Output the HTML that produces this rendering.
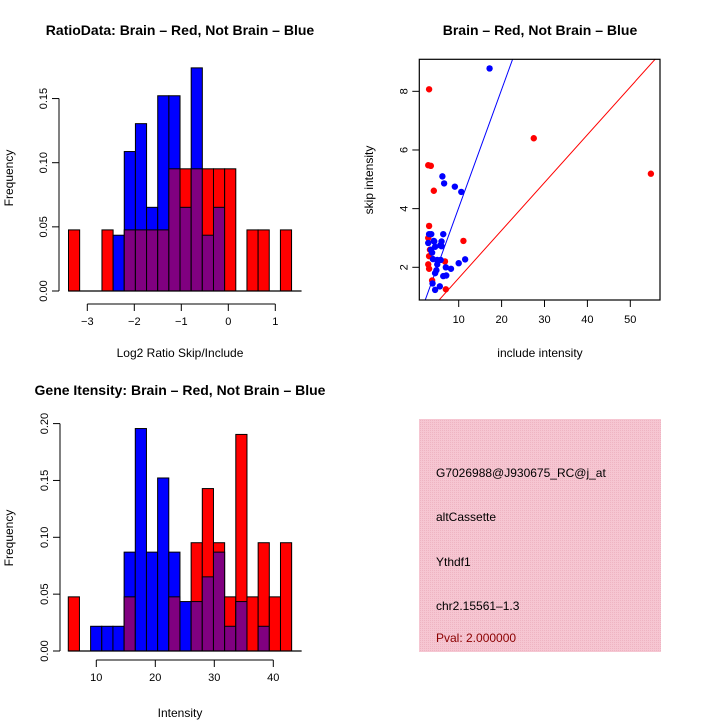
<!DOCTYPE html>
<html><head><meta charset="utf-8"><style>
body{margin:0;background:#fff}
svg{display:block;font-family:"Liberation Sans",Arial,sans-serif}
</style></head><body>
<svg id="c" width="720" height="720" viewBox="0 0 720 720">
<defs><pattern id="pk" width="2" height="2" patternUnits="userSpaceOnUse"><rect width="2" height="2" fill="#f6c6d2"/><rect width="1" height="1" fill="#eeb4c2"/></pattern></defs>
<text x="180" y="35" text-anchor="middle" font-size="14" font-weight="bold">RatioData: Brain – Red, Not Brain – Blue</text>
<text x="540" y="35" text-anchor="middle" font-size="14" font-weight="bold">Brain – Red, Not Brain – Blue</text>
<text x="180" y="395" text-anchor="middle" font-size="14" font-weight="bold">Gene Itensity: Brain – Red, Not Brain – Blue</text>
<text x="180" y="357" text-anchor="middle" font-size="12">Log2 Ratio Skip/Include</text>
<text x="540" y="357" text-anchor="middle" font-size="12">include intensity</text>
<text x="180" y="717" text-anchor="middle" font-size="12">Intensity</text>
<text transform="translate(13,178) rotate(-90)" text-anchor="middle" font-size="12">Frequency</text>
<text transform="translate(13,538) rotate(-90)" text-anchor="middle" font-size="12">Frequency</text>
<text transform="translate(373,180) rotate(-90)" text-anchor="middle" font-size="12">skip intensity</text>
<g>
<rect x="419" y="419" width="242" height="233" fill="url(#pk)"/>
<text x="436" y="477" font-size="12">G7026988@J930675_RC@j_at</text>
<text x="436" y="521" font-size="12">altCassette</text>
<text x="436" y="566" font-size="12">Ythdf1</text>
<text x="436" y="610" font-size="12">chr2.15561–1.3</text>
<text x="436" y="642" font-size="12" fill="#8b0000">Pval: 2.000000</text>
</g>
</svg>
<script>
// Ratio histogram data (counts per bin)
const ratioStart = -3.40;
const ratioBinW = 0.2373;
const ratioRed = [1,0,0,1,0,1,1,1,1,2,2,2,2,2,2,0,1,1,0,1];
const ratioBlue = [0,0,0,0,2,5,6,3,7,7,3,8,2,3,0,0,0,0,0,0];
const ratioXTicks = [-3,-2,-1,0,1];
const ratioYTicks = [0,0.05,0.10,0.15];
// Intensity histogram data
const intStart = 5.25;
const intBinW = 1.893;
const intRed = [1,0,0,0,0,1,0,0,0,1,0,2,3,2,1,4,1,2,1,2];
const intBlue = [0,0,1,1,1,4,9,4,7,4,2,2,3,4,1,2,0,1,0,0];
const intXTicks = [10,20,30,40];
const intYTicks = [0,0.05,0.10,0.15,0.20];
// Scatter data
const redX = [3.1,27.5,54.8,2.9,3.5,4.2,3.1,11.1,7.0,2.9,3.1,2.9,3.1,3.8,6.8,3.3];
const redY = [8.07,6.40,5.19,5.48,5.46,4.61,3.41,2.90,1.25,3.0,2.38,2.1,1.95,1.55,2.2,2.6];
const blueX = [17.2,6.2,6.6,9.1,10.6,11.5,10.0,3.1,3.6,6.4,2.9,4.3,6.0,4.5,5.7,6.0,3.8,4.0,5.0,5.8,7.0,8.2,4.5,6.4,7.1,3.9,5.6,4.5,4.2,5.0,3.5,4.8];
const blueY = [8.78,5.10,4.86,4.75,4.57,2.27,2.14,3.13,3.13,3.13,2.83,2.88,2.88,2.7,2.75,2.72,2.5,2.28,2.25,2.25,2.0,1.95,1.8,1.7,1.72,1.45,1.35,1.23,2.9,2.1,2.6,1.9];
const blueSlope = 0.403;
const redSlope = 0.163;
const scXTicks = [10,20,30,40,50];
const scYTicks = [2,4,6,8];

const NS='http://www.w3.org/2000/svg';
const svg=document.getElementById('c');
function mk(tag,attrs,parent){const e=document.createElementNS(NS,tag);for(const k in attrs)e.setAttribute(k,attrs[k]);(parent||svg).appendChild(e);return e;}

function hist(cfg){
  const g=mk('g',{});
  
  
  const sx=v=>cfg.x0+(v-cfg.v0)*cfg.pxU;
  const sy=v=>cfg.base-v*cfg.pxY;
  const nR=cfg.red.reduce((a,b)=>a+b,0), nB=cfg.blue.reduce((a,b)=>a+b,0);
  for(let i=0;i<cfg.red.length;i++){
    const l=sx(cfg.start+i*cfg.w), r=sx(cfg.start+(i+1)*cfg.w);
    const hr=cfg.red[i]/nR, hb=cfg.blue[i]/nB;
    const lo=Math.min(hr,hb), hi=Math.max(hr,hb);
    if(hi>0){
      const b=mk('rect',{x:l,y:sy(hi),width:r-l,height:sy(0)-sy(hi),fill:hr>hb?'#ff0000':'#0000ff',stroke:'#000','stroke-width':1},g);
      
      
    }
    if(lo>0){
      const p=mk('rect',{x:l,y:sy(lo),width:r-l,height:sy(0)-sy(lo),fill:'#800080',stroke:'#000','stroke-width':1},g);
      
      
    }
  }
  const totEnd=sx(cfg.start+cfg.red.length*cfg.w);
  mk('line',{x1:sx(cfg.start),x2:totEnd+10,y1:cfg.base,y2:cfg.base,stroke:'#000','stroke-width':1.2},g);
  // x axis
  const xa=mk('g',{},g);
  
  
  const ay=cfg.base+cfg.xgap;
  mk('line',{x1:sx(cfg.xt[0]),x2:sx(cfg.xt[cfg.xt.length-1]),y1:ay,y2:ay,stroke:'#000'},xa);
  cfg.xt.forEach(t=>{mk('line',{x1:sx(t),x2:sx(t),y1:ay,y2:ay+7,stroke:'#000'},xa);
    const tx=mk('text',{x:sx(t),y:ay+21,'text-anchor':'middle','font-size':11},xa);tx.textContent=String(t).replace('-','−');});
  // y axis
  const ya=mk('g',{},g);
  
  
  const ax=cfg.yaxX;
  mk('line',{x1:ax,x2:ax,y1:sy(cfg.yt[0]),y2:sy(cfg.yt[cfg.yt.length-1]),stroke:'#000'},ya);
  cfg.yt.forEach(t=>{mk('line',{x1:ax-7,x2:ax,y1:sy(t),y2:sy(t),stroke:'#000'},ya);
    const tx=mk('text',{transform:`translate(${ax-12},${sy(t)}) rotate(-90)`,'text-anchor':'middle','font-size':11},ya);tx.textContent=t.toFixed(2);});
}
hist({name:'ratio-histogram',red:ratioRed,blue:ratioBlue,start:ratioStart,w:ratioBinW,v0:-1,x0:181.3,pxU:47,base:291,pxY:1283,xt:ratioXTicks,yt:ratioYTicks,xgap:13,yaxX:59});
hist({name:'intensity-histogram',red:intRed,blue:intBlue,start:intStart,w:intBinW,v0:10,x0:96.3,pxU:5.9,base:651,pxY:1137,xt:intXTicks,yt:intYTicks,xgap:9,yaxX:60});

// scatter
(function(){
  const g=mk('g',{});
  
  
  const L=419.3,R=660,T=59.3,B=300;
  const sx=v=>458.7+(v-10)*4.29, sy=v=>267.3-(v-2)*29.33;
  mk('clipPath',{id:'clp'},g).appendChild(Object.assign(document.createElementNS(NS,'rect'),{}));
  const cr=g.querySelector('#clp');cr.firstChild.setAttribute('x',L);cr.firstChild.setAttribute('y',T);cr.firstChild.setAttribute('width',R-L);cr.firstChild.setAttribute('height',B-T);
  const inner=mk('g',{'clip-path':'url(#clp)'},g);
  const xmin=(L-458.7)/4.29+10, xmax=(R-458.7)/4.29+10;
  const bl=mk('line',{x1:sx(xmin),y1:sy(xmin*blueSlope),x2:sx(xmax),y2:sy(xmax*blueSlope),stroke:'#0000ff'},inner);
  
  
  const rl=mk('line',{x1:sx(xmin),y1:sy(xmin*redSlope),x2:sx(xmax),y2:sy(xmax*redSlope),stroke:'#ff0000'},inner);
  
  
  redX.forEach((x,i)=>{const c=mk('circle',{cx:sx(x),cy:sy(redY[i]),r:3.2,fill:'#ff0000'},inner);
    
    });
  blueX.forEach((x,i)=>{const c=mk('circle',{cx:sx(x),cy:sy(blueY[i]),r:3.2,fill:'#0000ff'},inner);
    
    });
  const fr=mk('rect',{x:L,y:T,width:R-L,height:B-T,fill:'none',stroke:'#000','stroke-width':1.2},g);
  
  
  const xa=mk('g',{},g);
  
  
  scXTicks.forEach(t=>{mk('line',{x1:sx(t),x2:sx(t),y1:B,y2:B+7,stroke:'#000'},xa);
    const tx=mk('text',{x:sx(t),y:B+23,'text-anchor':'middle','font-size':11},xa);tx.textContent=t;});
  const ya=mk('g',{},g);
  
  
  scYTicks.forEach(t=>{mk('line',{x1:L-7,x2:L,y1:sy(t),y2:sy(t),stroke:'#000'},ya);
    const tx=mk('text',{transform:`translate(${L-12},${sy(t)}) rotate(-90)`,'text-anchor':'middle','font-size':11},ya);tx.textContent=t;});
})();
</script>
</body></html>
